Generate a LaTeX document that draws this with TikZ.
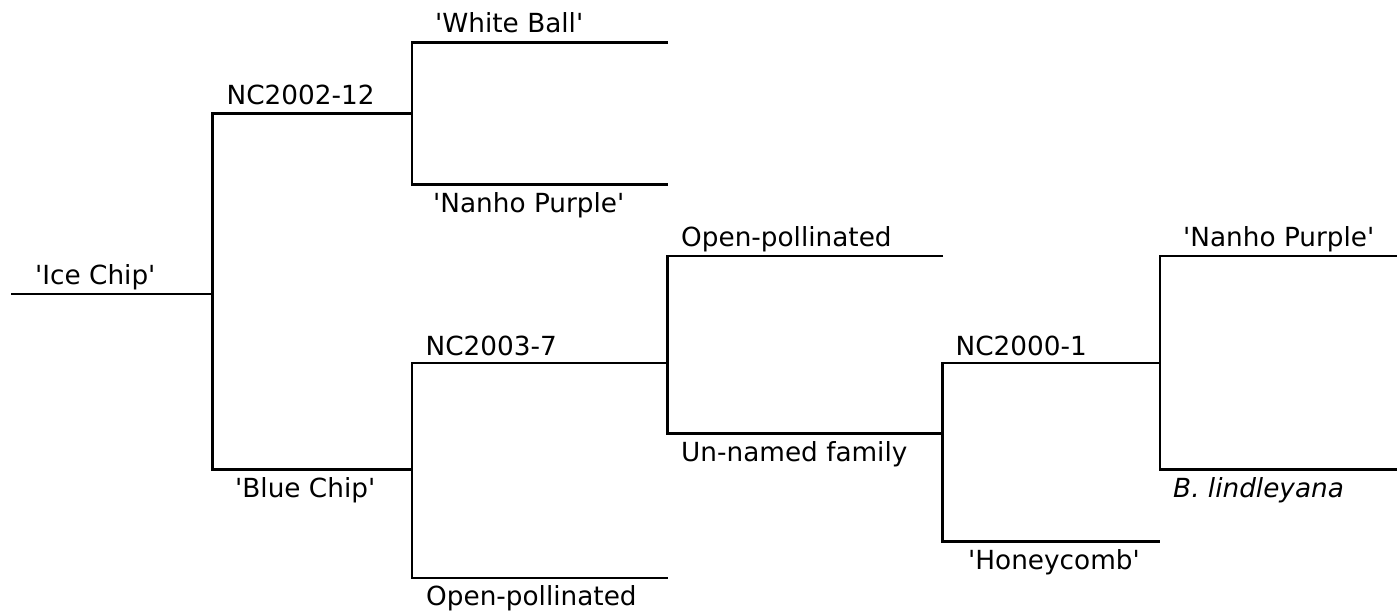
\documentclass[tikz,border=0pt]{standalone}
\usepackage{fontspec}
\setmainfont{DejaVu Sans}
\newcommand{\sq}{\textquotesingle}
\begin{document}
\begin{tikzpicture}[x=1pt,y=-1pt,
  lbl/.style={anchor=base west,inner sep=0pt,font=\fontsize{26.3}{30}\selectfont},
  ped/.style={line width=2.6pt,black,line join=miter}]
\useasboundingbox (0,0) rectangle (1397,615);
% junction coordinates
\coordinate (ice0) at (11,294);
\coordinate (ax) at (212.5,294);
\coordinate (a1) at (212.5,113.5); \coordinate (a1e) at (412,113.5);
\coordinate (a2) at (212.5,469.5); \coordinate (a2e) at (412,469.5);
\coordinate (b1) at (412,42.5);  \coordinate (b1e) at (668,42.5);
\coordinate (b2) at (412,184.5); \coordinate (b2e) at (668,184.5);
\coordinate (c1) at (412,363);   \coordinate (c1e) at (667.5,363);
\coordinate (c2) at (412,578);   \coordinate (c2e) at (667.5,578);
\coordinate (d1) at (667.5,256); \coordinate (d1e) at (943,256);
\coordinate (d2) at (667.5,433.5); \coordinate (d2e) at (943,433.5);
\coordinate (e1) at (942.5,363); \coordinate (e1e) at (1160,363);
\coordinate (e2) at (942.5,541.5); \coordinate (e2e) at (1160,541.5);
\coordinate (f1) at (1160,256);  \coordinate (f1e) at (1400,256);
\coordinate (f2) at (1160,469.5); \coordinate (f2e) at (1400,469.5);
% lines
\draw[ped] (ice0) -- (ax);
\draw[ped] (a1e) -- (a1) -- (a2) -- (a2e);
\draw[ped] (b1e) -- (b1) -- (b2) -- (b2e);
\draw[ped] (c1e) -- (c1) -- (c2) -- (c2e);
\draw[ped] (d1e) -- (d1) -- (d2) -- (d2e);
\draw[ped] (e1e) -- (e1) -- (e2) -- (e2e);
\draw[ped] (f1e) -- (f1) -- (f2) -- (f2e);
% labels
\node[lbl] (tice) at (35,284) {\sq Ice Chip\sq};
\node[lbl] (tnc12) at (226.5,104.3) {NC2002-12};
\node[lbl] (tblue) at (235,497) {\sq Blue Chip\sq};
\node[lbl] (twhite) at (435,33) {\sq White Ball\sq};
\node[lbl] (tnanho1) at (433,212) {\sq Nanho Purple\sq};
\node[lbl] (tnc7) at (425.5,355) {NC2003-7};
\node[lbl] (topen1) at (426,605.6) {Open-pollinated};
\node[lbl] (topen2) at (681,246.7) {Open-pollinated};
\node[lbl] (tun) at (681,461) {Un-named family};
\node[lbl] (tnc1) at (955.5,355) {NC2000-1};
\node[lbl] (thoney) at (968,569.3) {\sq Honeycomb\sq};
\node[lbl] (tnanho2) at (1183,246) {\sq Nanho Purple\sq};
\node[lbl] (tlind) at (1173,497) {\itshape B. lindleyana};
\end{tikzpicture}
\end{document}
